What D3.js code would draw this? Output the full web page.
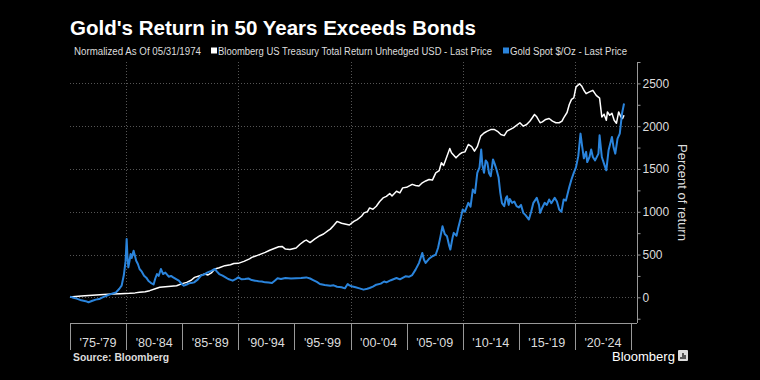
<!DOCTYPE html>
<html>
<head>
<meta charset="utf-8">
<script src="https://cdn.jsdelivr.net/npm/d3@7"></script>
<style>
  html, body { margin: 0; padding: 0; background: #000; }
  svg { display: block; }
  text { font-family: "Liberation Sans", Arial, sans-serif; }
</style>
</head>
<body>
<div class="chart"></div>
<script>
var svgWidth = 760;
var svgHeight = 380;

// plot area
var margin = { top: 62, right: 123, bottom: 57, left: 70 };
var width = svgWidth - margin.left - margin.right;   // 567
var height = svgHeight - margin.top - margin.bottom; // 261

// x-axis period labels (5 year buckets)
var periods = ["'75-'79", "'80-'84", "'85-'89", "'90-'94", "'95-'99",
               "'00-'04", "'05-'09", "'10-'14", "'15-'19", "'20-'24"];
var periodStarts = [1975, 1980, 1985, 1990, 1995, 2000, 2005, 2010, 2015, 2020, 2025];
var gridYears = [1980, 1990, 2000, 2010, 2020];
var yTicks = [0, 500, 1000, 1500, 2000, 2500];

// Bloomberg US Treasury Total Return (year, percent)
var bondData = [
  [1975.0, 5], [1976.0, 15], [1977.0, 25], [1978.0, 33], [1978.8, 39], [1979.5, 43],
  [1980.3, 47], [1980.8, 52], [1981.2, 58], [1981.7, 65], [1982.1, 78], [1982.6, 100],
  [1983.0, 117], [1983.5, 125], [1984.0, 130], [1984.5, 136], [1985.0, 160], [1985.4, 175],
  [1985.8, 200], [1986.1, 233], [1986.5, 250], [1987.0, 272], [1987.3, 262], [1987.6, 285],
  [1987.9, 331], [1988.3, 345], [1988.8, 370], [1989.3, 380], [1989.6, 395], [1990.0, 397],
  [1990.5, 420], [1991.0, 450], [1991.2, 467], [1991.7, 490], [1992.0, 505], [1992.4, 525],
  [1992.8, 550], [1993.2, 570], [1993.6, 591], [1993.9, 595], [1994.2, 564], [1994.6, 560],
  [1995.15, 576], [1995.5, 620], [1995.9, 660], [1996.06, 669], [1996.4, 640], [1996.8, 680],
  [1997.27, 720], [1997.6, 740], [1998.0, 780], [1998.2, 797], [1998.5, 840], [1998.8, 887],
  [1999.2, 865], [1999.5, 856], [1999.9, 845], [2000.3, 887], [2000.6, 909], [2001.0, 950],
  [2001.2, 987], [2001.5, 1000], [2001.7, 1045], [2002.0, 1030], [2002.3, 1065], [2002.6, 1120],
  [2002.9, 1162], [2003.2, 1180], [2003.5, 1213], [2003.7, 1185], [2004.1, 1240], [2004.4, 1220],
  [2004.65, 1279], [2005.0, 1285], [2005.2, 1299], [2005.5, 1320], [2005.8, 1307], [2006.1, 1300],
  [2006.4, 1338], [2006.7, 1360], [2007.0, 1377], [2007.3, 1370], [2007.6, 1455], [2007.9, 1480],
  [2008.1, 1572], [2008.3, 1540], [2008.6, 1650], [2008.85, 1740], [2009.0, 1689], [2009.4, 1630],
  [2009.7, 1670], [2009.9, 1689], [2010.2, 1700], [2010.5, 1786], [2010.8, 1760], [2011.05, 1708],
  [2011.3, 1760], [2011.6, 1884], [2011.9, 1920], [2012.2, 1942], [2012.5, 1960], [2012.8, 1962],
  [2013.1, 1940], [2013.4, 1903], [2013.7, 1890], [2013.95, 1942], [2014.2, 1960], [2014.5, 1981],
  [2014.8, 2010], [2015.1, 2040], [2015.4, 2000], [2015.7, 2020], [2016.0, 2060], [2016.4, 2137],
  [2016.6, 2110], [2016.9, 2040], [2017.1, 2050], [2017.4, 2079], [2017.7, 2090], [2018.0, 2059],
  [2018.3, 2040], [2018.6, 2040], [2018.85, 2060], [2019.0, 2098], [2019.3, 2160], [2019.5, 2254],
  [2019.7, 2313], [2019.9, 2330], [2020.1, 2460], [2020.4, 2495], [2020.6, 2470], [2020.8, 2420],
  [2021.0, 2380], [2021.3, 2400], [2021.6, 2419], [2021.9, 2360], [2022.2, 2327], [2022.4, 2108],
  [2022.6, 2140], [2022.8, 2069], [2022.9, 2167], [2023.1, 2128], [2023.3, 2150], [2023.5, 2069],
  [2023.7, 2034], [2023.9, 2167], [2024.1, 2108], [2024.25, 2090], [2024.38, 2128]
];

// Gold Spot $/Oz (year, percent)
var goldData = [
  [1975.0, 8], [1975.3, -5], [1975.6, -15], [1976.0, -35], [1976.4, -45], [1976.65, -58],
  [1977.0, -40], [1977.3, -27], [1977.6, -20], [1977.9, 0], [1978.2, 15], [1978.5, 31],
  [1978.8, 45], [1979.1, 58], [1979.4, 100], [1979.6, 136], [1979.8, 260], [1979.95, 420],
  [1980.05, 681], [1980.12, 480], [1980.2, 350], [1980.3, 420], [1980.4, 506], [1980.5, 460],
  [1980.67, 545], [1980.8, 480], [1980.9, 428], [1981.05, 390], [1981.2, 331], [1981.4, 300],
  [1981.6, 253], [1981.8, 230], [1982.0, 190], [1982.2, 170], [1982.45, 150], [1982.6, 220],
  [1982.75, 272], [1982.9, 250], [1983.1, 331], [1983.3, 272], [1983.5, 290], [1983.8, 241],
  [1984.0, 250], [1984.2, 233], [1984.5, 210], [1984.7, 195], [1985.0, 150], [1985.15, 136],
  [1985.4, 150], [1985.6, 163], [1985.9, 170], [1986.06, 175], [1986.4, 210], [1986.67, 253],
  [1987.0, 270], [1987.27, 292], [1987.6, 310], [1987.9, 331], [1988.1, 300], [1988.3, 272],
  [1988.6, 253], [1988.9, 230], [1989.1, 214], [1989.5, 195], [1989.8, 215], [1990.0, 233],
  [1990.3, 210], [1990.6, 214], [1990.9, 220], [1991.2, 202], [1991.5, 195], [1991.8, 187],
  [1992.1, 185], [1992.4, 175], [1992.7, 172], [1993.0, 167], [1993.3, 200], [1993.5, 222],
  [1993.8, 215], [1994.2, 226], [1994.7, 220], [1995.15, 222], [1995.6, 225], [1996.06, 233],
  [1996.4, 220], [1996.67, 202], [1997.0, 180], [1997.27, 156], [1997.7, 145], [1998.2, 136],
  [1998.5, 140], [1998.8, 124], [1999.2, 118], [1999.5, 105], [1999.75, 155], [1999.9, 140],
  [2000.1, 130], [2000.45, 117], [2000.8, 105], [2001.16, 90], [2001.5, 100], [2001.7, 109],
  [2002.0, 125], [2002.3, 148], [2002.7, 160], [2003.0, 185], [2003.2, 175], [2003.6, 200],
  [2004.1, 226], [2004.4, 210], [2004.9, 246], [2005.2, 240], [2005.5, 260], [2005.8, 324],
  [2006.1, 400], [2006.4, 519], [2006.55, 440], [2006.7, 402], [2007.0, 450], [2007.3, 480],
  [2007.6, 500], [2007.8, 577], [2008.0, 700], [2008.2, 831], [2008.4, 740], [2008.6, 714],
  [2008.8, 600], [2008.9, 558], [2009.1, 700], [2009.2, 753], [2009.45, 720], [2009.6, 811],
  [2009.85, 940], [2010.0, 1026], [2010.2, 1000], [2010.5, 1104], [2010.7, 1060], [2010.9, 1260],
  [2011.1, 1220], [2011.3, 1455], [2011.5, 1520], [2011.65, 1728], [2011.75, 1550], [2011.9, 1455],
  [2012.05, 1600], [2012.2, 1572], [2012.35, 1450], [2012.5, 1416], [2012.7, 1611], [2012.85, 1560],
  [2013.0, 1500], [2013.2, 1400], [2013.35, 1221], [2013.5, 1100], [2013.7, 1065], [2013.85, 1160],
  [2013.95, 1182], [2014.1, 1080], [2014.2, 1150], [2014.4, 1104], [2014.6, 1120], [2014.8, 1065],
  [2015.0, 1050], [2015.2, 1080], [2015.4, 987], [2015.6, 960], [2015.9, 909], [2016.1, 1000],
  [2016.3, 1104], [2016.6, 1162], [2016.8, 1080], [2016.9, 987], [2017.1, 1050], [2017.3, 1104],
  [2017.5, 1080], [2017.7, 1143], [2017.9, 1100], [2018.2, 1162], [2018.4, 1120], [2018.6, 1026],
  [2018.8, 1000], [2019.0, 1143], [2019.2, 1130], [2019.5, 1288], [2019.7, 1380], [2019.9, 1455],
  [2020.1, 1522], [2020.3, 1650], [2020.5, 1913], [2020.65, 1760], [2020.8, 1624], [2021.0, 1700],
  [2021.1, 1581], [2021.3, 1640], [2021.45, 1728], [2021.6, 1640], [2021.8, 1600], [2022.1, 1679],
  [2022.2, 1893], [2022.4, 1640], [2022.6, 1560], [2022.8, 1484], [2023.0, 1718], [2023.3, 1874],
  [2023.45, 1750], [2023.6, 1679], [2023.8, 1855], [2024.0, 1913], [2024.2, 2148], [2024.38, 2265]
];

var svg = d3.select(".chart")
  .append("svg")
  .attr("width", svgWidth)
  .attr("height", svgHeight)
  .style("background", "#000");

// scales
var xScale = d3.scaleLinear()
  .domain([1975, 2025])
  .range([margin.left, 631]);

var yScale = d3.scaleLinear()
  .domain([-300, 2750])
  .range([margin.top + height, margin.top]);

var plotRight = margin.left + width;
var plotBottom = margin.top + height;

// squeeze a text to the width it has in the original (narrow Bloomberg face)
function fitWidth(sel, w) {
  sel.attr("textLength", w).attr("lengthAdjust", "spacingAndGlyphs");
}

// title + legend
svg.append("text")
  .attr("x", 70)
  .attr("y", 35)
  .attr("fill", "#fff")
  .attr("font-weight", "bold")
  .attr("font-size", 19.5)
  .text("Gold's Return in 50 Years Exceeds Bonds")
  .call(fitWidth, 406);

var legend = svg.append("g")
  .attr("font-size", 10)
  .attr("fill", "#ddd");

legend.append("text").attr("x", 74).attr("y", 55)
  .text("Normalized As Of 05/31/1974").call(fitWidth, 127);
legend.append("rect").attr("x", 211).attr("y", 47.5).attr("width", 6).attr("height", 6).attr("fill", "#fff");
legend.append("text").attr("x", 218).attr("y", 55)
  .text("Bloomberg US Treasury Total Return Unhedged USD - Last Price").call(fitWidth, 274);
legend.append("rect").attr("x", 503).attr("y", 47.5).attr("width", 6).attr("height", 6).attr("fill", "#2a84dc");
legend.append("text").attr("x", 510).attr("y", 55)
  .text("Gold Spot $/Oz - Last Price").call(fitWidth, 117);

// gridlines
svg.append("g")
  .selectAll("line")
  .data(yTicks)
  .enter()
  .append("line")
  .attr("x1", margin.left)
  .attr("x2", plotRight)
  .attr("y1", d => Math.round(yScale(d)) + 0.5)
  .attr("y2", d => Math.round(yScale(d)) + 0.5)
  .attr("stroke", "#555")
  .attr("stroke-dasharray", "1,2");

svg.append("g")
  .selectAll("line")
  .data(gridYears)
  .enter()
  .append("line")
  .attr("x1", d => Math.round(xScale(d)) + 0.5)
  .attr("x2", d => Math.round(xScale(d)) + 0.5)
  .attr("y1", margin.top)
  .attr("y2", plotBottom)
  .attr("stroke", "#555")
  .attr("stroke-dasharray", "1,2");

// right axis
var rightAxis = d3.axisRight(yScale)
  .tickValues(d3.range(-250, 2751, 250))
  .tickSize(3)
  .tickFormat(d => (d % 500 === 0 ? d : ""));

var yAxisG = svg.append("g")
  .attr("transform", `translate(${plotRight + 0.5}, 0)`)
  .call(rightAxis);
yAxisG.select(".domain").attr("stroke", "#999").attr("d", `M0,${margin.top}V${plotBottom}`);
yAxisG.selectAll(".tick line").attr("stroke", "#999");
yAxisG.selectAll(".tick text")
  .attr("x", 5)
  .attr("fill", "#ddd")
  .attr("font-size", 12)
  .attr("font-family", "Liberation Sans, Arial, sans-serif");

svg.append("text")
  .attr("transform", `translate(678, ${(margin.top + plotBottom) / 2}) rotate(90)`)
  .attr("text-anchor", "middle")
  .attr("fill", "#ddd")
  .attr("font-size", 13)
  .text("Percent of return");

// bottom axis: period boxes
svg.append("line")
  .attr("x1", margin.left).attr("x2", plotRight)
  .attr("y1", plotBottom + 0.5).attr("y2", plotBottom + 0.5)
  .attr("stroke", "#999");

svg.append("g")
  .selectAll("line")
  .data(periodStarts)
  .enter()
  .append("line")
  .attr("x1", d => Math.round(xScale(d)) + 0.5)
  .attr("x2", d => Math.round(xScale(d)) + 0.5)
  .attr("y1", plotBottom)
  .attr("y2", plotBottom + 27)
  .attr("stroke", "#999");

svg.append("g")
  .selectAll("text")
  .data(periods)
  .enter()
  .append("text")
  .attr("x", (d, i) => (xScale(periodStarts[i]) + xScale(periodStarts[i + 1])) / 2)
  .attr("y", 347)
  .attr("text-anchor", "middle")
  .attr("fill", "#ddd")
  .attr("font-size", 12)
  .text(d => d)
  .call(fitWidth, 37);

// lines
var line = d3.line()
  .x(d => xScale(d[0]))
  .y(d => yScale(d[1]));

svg.append("path")
  .datum(bondData)
  .attr("d", line)
  .attr("fill", "none")
  .attr("stroke", "#fff")
  .attr("stroke-width", 1.5)
  .attr("stroke-linejoin", "round");

svg.append("path")
  .datum(goldData)
  .attr("d", line)
  .attr("fill", "none")
  .attr("stroke", "#2a84dc")
  .attr("stroke-width", 2)
  .attr("stroke-linejoin", "round");

// footer
svg.append("text")
  .attr("x", 73)
  .attr("y", 361)
  .attr("fill", "#ddd")
  .attr("font-weight", "bold")
  .attr("font-size", 10)
  .text("Source: Bloomberg")
  .call(fitWidth, 96);

svg.append("text")
  .attr("x", 612)
  .attr("y", 361)
  .attr("fill", "#fff")
  .attr("font-size", 13)
  .text("Bloomberg");

// little logo mark
var logo = svg.append("g").attr("transform", "translate(678, 350)");
logo.append("rect").attr("width", 10).attr("height", 11).attr("rx", 1).attr("fill", "#ddd");
logo.selectAll("line")
  .data([[3, 7], [5, 3], [7, 5]])
  .enter()
  .append("line")
  .attr("x1", d => d[0]).attr("x2", d => d[0])
  .attr("y1", 9).attr("y2", d => d[1])
  .attr("stroke", "#000")
  .attr("stroke-width", 1.2);
</script>
</body>
</html>
